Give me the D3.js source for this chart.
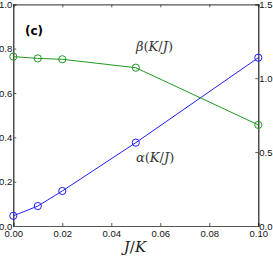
<!DOCTYPE html>
<html>
<head>
<meta charset="utf-8">
<script src="https://cdn.jsdelivr.net/npm/d3@7"></script>
<style>
  body { margin: 0; background: #fff; }
  svg { display: block; }
  .tick text { font-family: "Liberation Sans", Arial, sans-serif; font-size: 9.5px; fill: #111; }
</style>
</head>
<body>
<div id="chart"></div>
<script>
const xValues = [0.00, 0.01, 0.02, 0.05, 0.10]
const alphaValues = [0.046, 0.090, 0.158, 0.376, 0.759]
const betaValues = [0.764, 0.756, 0.752, 0.714, 0.456]
const xTicks = [0.00, 0.02, 0.04, 0.06, 0.08, 0.10]
const leftTicks = [0.0, 0.2, 0.4, 0.6, 0.8, 1.0]
const rightTicks = [0.0, 0.5, 1.0, 1.5]

const width = 273
const height = 256
const box = { left: 13.3, right: 258.3, top: 4.3, bottom: 226 }

const svg = d3.select('#chart').append('svg')
  .attr('width', width)
  .attr('height', height)

const x = d3.scaleLinear().domain([0, 0.1]).range([box.left, box.right])
const y = d3.scaleLinear().domain([0, 1]).range([box.bottom, box.top])
const yRight = d3.scaleLinear().domain([0, 1.5]).range([box.bottom, box.top])

const axisColor = '#555'

// axes, ticks pointing inward
const axBottom = svg.append('g')
  .attr('transform', `translate(0,${box.bottom})`)
  .call(d3.axisBottom(x).tickValues(xTicks).tickFormat(d3.format('.2f')).tickSize(-3).tickPadding(4))
const axTop = svg.append('g')
  .attr('transform', `translate(0,${box.top})`)
  .call(d3.axisTop(x).tickValues(xTicks).tickFormat('').tickSize(-3))
const axLeft = svg.append('g')
  .attr('transform', `translate(${box.left},0)`)
  .call(d3.axisLeft(y).tickValues(leftTicks).tickFormat(d3.format('.1f')).tickSize(-3).tickPadding(1))
const axRight = svg.append('g')
  .attr('transform', `translate(${box.right},0)`)
  .call(d3.axisRight(yRight).tickValues(rightTicks).tickFormat(d3.format('.1f')).tickSize(-3).tickPadding(1))

;[axBottom, axTop, axLeft, axRight].forEach(g => {
  g.select('.domain').attr('stroke', axisColor).attr('stroke-width', 1.2)
  g.selectAll('.tick line').attr('stroke', axisColor)
})
axLeft.select('.domain').attr('stroke', '#222')
axRight.select('.domain').attr('stroke', '#222')

const series = [
  { values: alphaValues, color: '#1f1fff' },
  { values: betaValues, color: '#229922' }
]

const line = d3.line().x(d => x(d[0])).y(d => y(d[1]))

series.forEach(s => {
  const pts = xValues.map((v, i) => [v, s.values[i]])
  svg.append('path')
    .datum(pts)
    .attr('d', line)
    .attr('fill', 'none')
    .attr('stroke', s.color)
    .attr('stroke-width', 1)
  svg.selectAll(null)
    .data(pts)
    .join('circle')
    .attr('cx', d => x(d[0]))
    .attr('cy', d => y(d[1]))
    .attr('r', 3.6)
    .attr('fill', 'none')
    .attr('stroke', s.color)
    .attr('stroke-width', 1)
})

const mathFont = '"DejaVu Serif", "Liberation Serif", serif'

svg.append('text')
  .attr('x', 25).attr('y', 35)
  .style('font-family', '"DejaVu Sans", sans-serif')
  .style('font-size', '12px')
  .style('font-weight', 'bold')
  .text('(c)')

const mathLabel = (tx, ty, greek, size) => {
  const t = svg.append('text')
    .attr('x', tx).attr('y', ty)
    .style('font-family', mathFont)
    .style('font-size', size + 'px')
    .style('fill', '#333')
  t.append('tspan').style('font-style', 'italic').text(greek)
  t.append('tspan').text('(')
  t.append('tspan').style('font-style', 'italic').text('K')
  t.append('tspan').text('/')
  t.append('tspan').style('font-style', 'italic').text('J')
  t.append('tspan').text(')')
}
mathLabel(136, 51, 'β', 13)
mathLabel(136, 162, 'α', 13)

const xl = svg.append('text')
  .attr('x', 135).attr('y', 252)
  .attr('text-anchor', 'middle')
  .style('font-family', mathFont)
  .style('font-size', '15px')
  .style('fill', '#222')
xl.append('tspan').style('font-style', 'italic').text('J')
xl.append('tspan').text('/')
xl.append('tspan').style('font-style', 'italic').text('K')
</script>
</body>
</html>
